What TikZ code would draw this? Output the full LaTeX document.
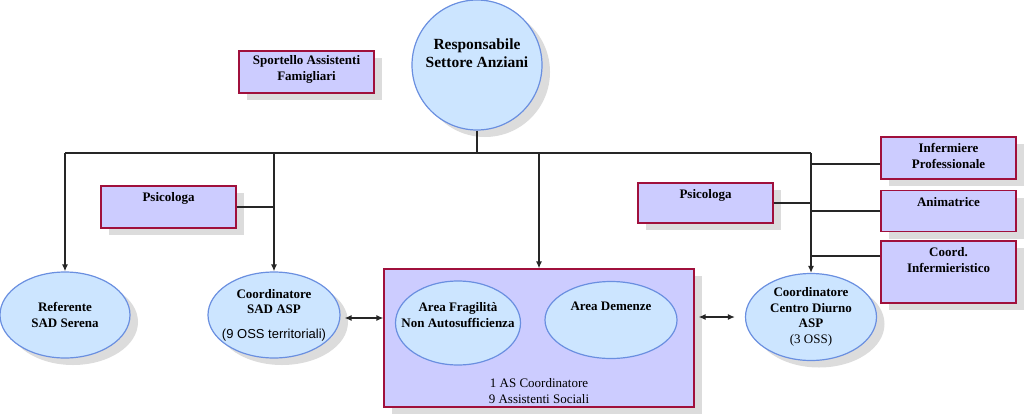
\documentclass[tikz,border=0pt]{standalone}
\usepackage{fontspec}
\setmainfont{Liberation Serif}
\setsansfont{Liberation Sans}
\usetikzlibrary{arrows.meta,positioning,shapes.geometric,shadows}
\definecolor{OrgBlue}{HTML}{CCE5FF}
\definecolor{OrgBlueLine}{HTML}{6A8FE0}
\definecolor{OrgLilac}{HTML}{CCCCFF}
\definecolor{OrgRed}{HTML}{A0103C}
\definecolor{OrgShadow}{HTML}{DCDCDC}
\newcommand{\orgfont}{\fontsize{13}{15.5}\selectfont\bfseries}
\newcommand{\orgplain}{\fontsize{13}{15.5}\selectfont\mdseries}
\tikzset{
  dropgray/.style={drop shadow={shadow xshift=8pt,shadow yshift=-7pt,fill=OrgShadow,opacity=1}},
  role/.style={ellipse,draw=OrgBlueLine,line width=1.2pt,fill=OrgBlue,inner sep=0pt,
    align=center,font=\orgfont},
  office/.style={rectangle,draw=OrgRed,line width=1.2pt,fill=OrgLilac,inner sep=0pt,
    minimum width=135pt},
  officetext/.style={anchor=north,inner sep=7pt,align=center,font=\orgfont},
  roletext/.style={align=center,font=\orgfont,inner sep=0pt},
  link/.style={line width=1.3pt,draw=black!85},
  flow/.style={link,-{Latex[length=7pt,width=6pt]}},
  twoway/.style={link,{Latex[length=7pt,width=6pt]}-{Latex[length=7pt,width=6pt]}}
}

\begin{document}
\begin{tikzpicture}[x=1pt,y=-1pt]
  \useasboundingbox (0,0) rectangle (1024,415);
  \node[circle,draw=OrgBlueLine,line width=1.2pt,fill=OrgBlue,minimum size=130pt,dropgray,
    label={[roletext,font=\fontsize{15.5}{18}\selectfont\bfseries,yshift=12pt]center:Responsabile\\Settore Anziani}]
    (resp) at (477,65) {};
  \node[office,minimum height=42pt,dropgray,
    label={[officetext,inner sep=5pt]north:Sportello Assistenti\\Famigliari}] (sportello) at (306.5,72) {};
  \node[office,minimum height=42pt,dropgray,label={[officetext]north:Psicologa}] (psicoA) at (168.5,207) {};
  \node[office,minimum height=40pt,dropgray,label={[officetext]north:Psicologa}] (psicoB) at (705.5,203) {};
  \node[office,minimum height=42pt,dropgray,
    label={[officetext]north:Infermiere\\Professionale}] (inferm) at (948.5,158) {};
  \node[office,minimum height=41pt,dropgray,label={[officetext]north:Animatrice}] (anim) at (948.5,211) {};
  \node[office,minimum height=62pt,dropgray,
    label={[officetext]north:Coord.\\Infermieristico}] (coordinf) at (948.5,272) {};

  \node[role,minimum width=130pt,minimum height=86pt,dropgray] (referente) at (65,315)
    {Referente\\SAD Serena};
  \node[role,minimum width=132pt,minimum height=86pt,dropgray] (sad) at (274,315)
    {Coordinatore\\SAD ASP\\[9pt]\makebox[0pt][c]{\normalfont\sffamily(9 OSS territoriali)}};
  \node[office,minimum width=310pt,minimum height=138pt,dropgray,
    label={[anchor=south,inner sep=4pt,align=center,font=\orgplain]south:1 AS Coordinatore\\9 Assistenti Sociali}]
    (area) at (539,338) {};
  \node[role,minimum width=125pt,minimum height=84pt,
    label={[roletext,yshift=8pt]center:Area Fragilità\\Non Autosufficienza}] (fragil) at (458,323) {};
  \node[role,minimum width=132pt,minimum height=77pt,
    label={[roletext,yshift=14pt]center:Area Demenze}] (demenze) at (611,320) {};
  \node[role,minimum width=131pt,minimum height=87pt,dropgray] (diurno) at (811,317)
    {Coordinatore\\Centro Diurno\\ASP\\{\normalfont(3 OSS)}};

  % tree
  \coordinate (bus) at (0,153);
  \draw[link] (resp.south) -- (resp.south |- bus);
  \draw[link] (referente.north |- bus) -- (diurno.north |- bus);
  \draw[flow] (referente.north |- bus) -- (referente.north);
  \draw[flow] (sad.north |- bus) -- (sad.north);
  \draw[flow] (area.north |- bus) -- (area.north);
  \draw[flow] (diurno.north |- bus) -- (diurno.north);
  \draw[link] (psicoA.east) -- (psicoA.east -| sad.north);
  \draw[link] (psicoB.east) -- (psicoB.east -| diurno.north);
  \draw[link] ([yshift=-6pt]inferm.west) -- ([yshift=-6pt]inferm.west -| diurno.north);
  \draw[link] (anim.west) -- (anim.west -| diurno.north);
  \draw[link] ([yshift=16pt]coordinf.west) -- ([yshift=16pt]coordinf.west -| diurno.north);
  \draw[twoway,shorten <=4pt] ([yshift=-3pt]sad.east) -- ([yshift=-3pt]sad.east -| area.west);
  \draw[twoway,shorten <=4pt,shorten >=10pt] (diurno.west -| area.east) -- (diurno.west);
\end{tikzpicture}
\end{document}
